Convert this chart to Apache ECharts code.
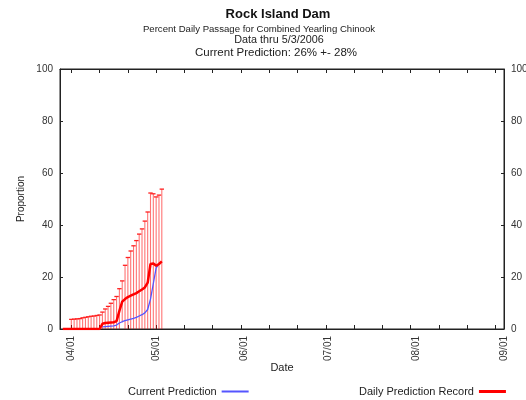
<!DOCTYPE html>
<html>
<head>
<meta charset="utf-8">
<script src="https://cdn.jsdelivr.net/npm/echarts@6/dist/echarts.min.js"></script>
<style>
  html, body { margin: 0; padding: 0; background: #fff; }
  #chart { width: 526px; height: 400px; }
</style>
</head>
<body>
<div id="chart"></div>
<script>
// days counted from 04/01/2006
const xLabelDays = [0, 30, 61, 91, 122, 153];
const xLabels = ['04/01', '05/01', '06/01', '07/01', '08/01', '09/01'];
const xTickDays = [0, 10, 20, 30, 40, 50, 60, 70, 80, 90, 100, 110, 120, 130, 140, 150];

// Daily Prediction Record (red)
const recordDays = [-3, -2, -1, 0, 1, 2, 3, 4, 5, 6, 7, 8, 9, 10, 11, 12, 13, 14, 15, 16,
  17, 18, 19, 20, 21, 22, 23, 24, 25, 26, 27, 28, 29, 30, 31, 32];
const recordValues = [0, 0, 0, 0, 0, 0, 0, 0, 0, 0, 0, 0, 0, 0, 2.0, 2.3, 2.4, 2.5, 2.6, 3.0,
  7.0, 10.5, 11.5, 12.3, 12.8, 13.3, 13.8, 14.5, 15.2, 16.0, 17.8, 25.0, 25.2, 24.3, 25.0, 26.0];

// upper end of the +- band for each daily prediction
const barDays = [0, 1, 2, 3, 4, 5, 6, 7, 8, 9, 10, 11, 12, 13, 14, 15, 16,
  17, 18, 19, 20, 21, 22, 23, 24, 25, 26, 27, 28, 29, 30, 31, 32];
const barUpper = [3.7, 3.8, 3.9, 4.0, 4.3, 4.5, 4.7, 4.9, 5.0, 5.2, 5.4, 6.5, 7.7, 8.7, 9.9, 11.3, 12.5,
  15.5, 18.5, 24.5, 27.5, 30.0, 32.0, 34.0, 36.5, 38.5, 41.5, 45.0, 52.3, 52.0, 50.8, 51.5, 53.8];

// Current Prediction (blue)
const currentDays = [11, 12, 13, 14, 15, 16, 17, 18, 19, 20, 21, 22, 23, 24, 25, 26, 27, 28, 29, 30, 31];
const currentValues = [0.8, 0.9, 1.0, 1.1, 1.2, 1.5, 2.3, 2.8, 3.2, 3.5, 3.8, 4.1, 4.5, 5.0, 5.5, 6.2,
  7.5, 11.5, 17.5, 23.5, 25.0];

const FONT = 'Liberation Sans';

const recordData = recordDays.map((d, i) => [d, recordValues[i]]);
const currentData = currentDays.map((d, i) => [d, currentValues[i]]);
const barData = barDays.map((d, i) => {
    const v = recordValues[recordDays.indexOf(d)];
    const err = barUpper[i] - v;
    return [d, Math.max(0, v - err), barUpper[i]];
});

const chart = echarts.init(document.getElementById('chart'));

const baseX = {
    type: 'value',
    min: -4,
    max: 153,
    splitLine: { show: false },
    axisLine: { show: true, onZero: false, lineStyle: { color: '#222', width: 1 } },
    axisTick: { show: true, inside: true, length: 4, customValues: xTickDays, lineStyle: { color: '#222' } }
};
const baseY = {
    type: 'value',
    min: 0,
    max: 100,
    interval: 20,
    splitLine: { show: false },
    axisLine: { show: true, onZero: false, lineStyle: { color: '#222', width: 1 } },
    axisTick: { show: true, inside: true, length: 3, lineStyle: { color: '#222' } },
    axisLabel: { fontSize: 10, color: '#333', fontFamily: FONT, margin: 7 }
};

chart.setOption({
    animation: false,
    title: [
        { text: 'Rock Island Dam', left: 273, top: 3, textAlign: 'center',
          textStyle: { fontSize: 13, fontWeight: 'bold', color: '#111', fontFamily: FONT } },
        { text: 'Percent Daily Passage for Combined Yearling Chinook', left: 254, top: 19, textAlign: 'center',
          textStyle: { fontSize: 9.6, fontWeight: 'normal', color: '#222', fontFamily: FONT } },
        { text: 'Data thru 5/3/2006', left: 274, top: 30, textAlign: 'center',
          textStyle: { fontSize: 10.8, fontWeight: 'normal', color: '#222', fontFamily: FONT } },
        { text: 'Current Prediction: 26% +- 28%', left: 271, top: 42, textAlign: 'center',
          textStyle: { fontSize: 11.5, fontWeight: 'normal', color: '#222', fontFamily: FONT } }
    ],
    legend: [
        { data: [{ name: 'Current Prediction', icon: 'rect' }], left: 128, top: 386, align: 'right',
          padding: 0, itemWidth: 27, itemHeight: 2, itemGap: 8,
          textStyle: { fontSize: 11, color: '#222', fontFamily: FONT } },
        { data: [{ name: 'Daily Prediction Record', icon: 'rect' }], left: 359, top: 386, align: 'right',
          padding: 0, itemWidth: 27, itemHeight: 3, itemGap: 8,
          textStyle: { fontSize: 11, color: '#222', fontFamily: FONT } }
    ],
    grid: { left: 60, right: 22, top: 69, bottom: 71, outerBoundsMode: 'none',
            show: true, borderColor: '#222', borderWidth: 1 },
    xAxis: [
        Object.assign({}, baseX, {
            position: 'bottom',
            name: 'Date',
            nameLocation: 'middle',
            nameGap: 33,
            nameMoveOverlap: false,
            nameTextStyle: { fontSize: 11, color: '#222', fontFamily: FONT },
            axisLabel: {
                customValues: xLabelDays,
                rotate: 90,
                fontSize: 10,
                color: '#333',
                fontFamily: FONT,
                margin: 7,
                formatter: v => xLabels[xLabelDays.indexOf(v)]
            }
        }),
        Object.assign({}, baseX, { position: 'top', axisLabel: { show: false } })
    ],
    yAxis: [
        Object.assign({}, baseY, {
            position: 'left',
            name: 'Proportion',
            nameLocation: 'middle',
            nameRotate: 90,
            nameGap: 34,
            nameMoveOverlap: false,
            nameTextStyle: { fontSize: 10, color: '#222', fontFamily: FONT }
        }),
        Object.assign({}, baseY, { position: 'right' })
    ],
    series: [
        {
            name: 'Error',
            type: 'custom',
            data: barData,
            z: 1,
            renderItem: function (params, api) {
                const x = api.value(0);
                const lo = api.coord([x, api.value(1)]);
                const hi = api.coord([x, api.value(2)]);
                return {
                    type: 'group',
                    children: [
                        { type: 'line', shape: { x1: lo[0], y1: lo[1], x2: hi[0], y2: hi[1] },
                          style: { stroke: 'rgba(255,0,0,0.55)', lineWidth: 1.1 } },
                        { type: 'line', shape: { x1: hi[0] - 2.2, y1: hi[1], x2: hi[0] + 2.2, y2: hi[1] },
                          style: { stroke: '#ff2020', lineWidth: 1.3 } }
                    ]
                };
            }
        },
        {
            name: 'Current Prediction',
            type: 'line',
            data: currentData,
            showSymbol: false,
            symbol: 'none',
            color: '#5555ff',
            lineStyle: { color: '#5555ff', width: 1.3 },
            z: 3
        },
        {
            name: 'Daily Prediction Record',
            type: 'line',
            data: recordData,
            showSymbol: false,
            symbol: 'none',
            color: '#ff0000',
            lineStyle: { color: '#ff0000', width: 2.5 },
            z: 4
        }
    ]
});
</script>
</body>
</html>
